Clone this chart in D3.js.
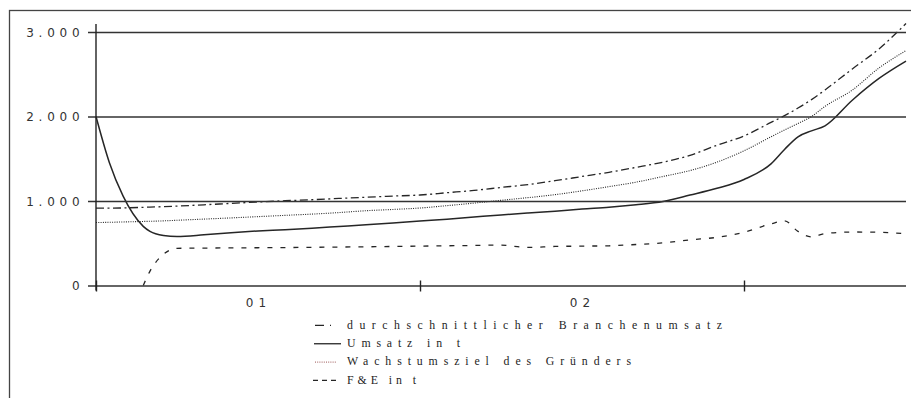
<!DOCTYPE html>
<html>
<head>
<meta charset="utf-8">
<script src="https://cdn.jsdelivr.net/npm/d3@7"></script>
<style>
  html, body { margin: 0; padding: 0; background: #fff; }
  svg { display: block; }
</style>
</head>
<body>
<svg id="chart" width="911" height="398"></svg>
<script>
// Monatsachse (Monate seit Gründung)
const months = [0, 0.5, 1, 1.75, 2, 2.5, 3, 4, 5, 6, 7, 8, 9, 10, 11, 12, 13, 14, 15, 16, 17, 18,
  19, 20, 21, 22, 23, 24, 25, 25.5, 26, 26.5, 27, 28, 29, 30];

const branchenumsatz = [915, 915, 918, 925, 928, 933, 940, 955, 972, 988, 1003, 1015, 1030, 1045,
  1058, 1071, 1098, 1125, 1160, 1195, 1240, 1290, 1340, 1398, 1460, 1540, 1660, 1770, 1930, 2010,
  2100, 2200, 2314, 2560, 2800, 3100];

const umsatz = [2000, 1450, 1060, 700, 640, 592, 580, 600, 625, 645, 660, 678, 698, 718, 740, 763,
  785, 810, 835, 858, 880, 905, 925, 955, 995, 1070, 1150, 1255, 1440, 1610, 1760, 1830, 1890,
  2190, 2450, 2655];

const wachstumsziel = [745, 748, 752, 758, 760, 765, 772, 786, 800, 815, 830, 845, 863, 885, 900,
  917, 945, 975, 1008, 1040, 1075, 1120, 1170, 1223, 1290, 1360, 1460, 1594, 1760, 1840, 1918,
  2000, 2120, 2310, 2574, 2780];

const fue = [0, 0, 0, 0, 170, 370, 440, 443, 445, 447, 449, 452, 455, 458, 462, 466, 470, 474, 478,
  450, 462, 466, 470, 485, 505, 540, 570, 630, 730, 765, 640, 575, 615, 633, 630, 612];

const yTicks = [0, 1000, 2000, 3000];
const yearTicks = [0, 12, 24];
const yearLabelPos = [6, 18];
const yearLabels = ["01", "02"];

const seriesNames = ["durchschnittlicher Branchenumsatz", "Umsatz in t", "Wachstumsziel des Gründers", "F&E in t"];

const svg = d3.select("#chart");
const ink = "#262626";

// Rahmen
svg.append("rect")
  .attr("x", 9.5).attr("y", 10.5)
  .attr("width", 920).attr("height", 420)
  .attr("fill", "none").attr("stroke", "#444").attr("stroke-width", 1.3);

const x = d3.scaleLinear().domain([0, 30]).range([96, 906]);
const y = d3.scaleLinear().domain([0, 3000]).range([285.5, 32]);

const de = d3.formatLocale({ decimal: ",", thousands: ".", grouping: [3], currency: ["", " €"] });
const fmt = de.format(",");

// Linien (führende Nullwerte werden nicht gezeichnet)
const styles = [
  { data: branchenumsatz, dash: "8,3.5,2,3.5", width: 1.3 },
  { data: umsatz, dash: null, width: 1.5 },
  { data: wachstumsziel, dash: "1,1.3", width: 1.1 },
  { data: fue, dash: "5,8", width: 1.3 }
];

const line = d3.line()
  .defined((d, i, arr) => d > 0 || arr[i + 1] > 0)
  .x((d, i) => x(months[i]))
  .y(d => y(d))
  .curve(d3.curveMonotoneX);

styles.forEach(s => {
  svg.append("path")
    .datum(s.data)
    .attr("d", line)
    .attr("fill", "none")
    .attr("stroke", ink)
    .attr("stroke-width", s.width)
    .attr("stroke-dasharray", s.dash);
});

// y-Achse mit Gitterlinien
const gy = svg.append("g")
  .attr("transform", "translate(96,0)")
  .call(d3.axisLeft(y).tickValues(yTicks).tickFormat(fmt).tickSize(0));
gy.select(".domain").remove();
gy.selectAll(".tick line")
  .attr("x1", -8).attr("x2", x(30) - 96)
  .attr("stroke", "#333").attr("stroke-width", 1.4);
gy.selectAll(".tick text")
  .attr("x", -11.5)
  .attr("dy", "0.34em")
  .attr("fill", "#333")
  .style("font-family", "'DejaVu Sans', sans-serif")
  .style("font-size", "12px")
  .style("letter-spacing", "4.8px");

svg.append("line")
  .attr("x1", 96).attr("x2", 96)
  .attr("y1", y(3000) - 8).attr("y2", y(0) + 5)
  .attr("stroke", "#222").attr("stroke-width", 1.4);

// x-Achse: Jahresgrenzen und Jahresbeschriftungen
const gx = svg.append("g")
  .attr("transform", `translate(0,${y(0)})`)
  .call(d3.axisBottom(x).tickValues(yearTicks).tickFormat(""));
gx.select(".domain").remove();
gx.selectAll(".tick line")
  .attr("y1", -5).attr("y2", 6)
  .attr("stroke", "#222").attr("stroke-width", 1.4);

const gxl = svg.append("g")
  .attr("transform", `translate(0,${y(0)})`)
  .call(d3.axisBottom(x).tickValues(yearLabelPos)
    .tickFormat((d, i) => yearLabels[i]).tickSize(0).tickPadding(13));
gxl.select(".domain").remove();
gxl.selectAll(".tick text")
  .attr("fill", "#333")
  .style("font-family", "'DejaVu Sans', sans-serif")
  .style("font-size", "12px")
  .style("letter-spacing", "5px");

// Legende
const legend = svg.append("g").attr("transform", "translate(314,328.7)");
const legendSample = [
  { x1: 1, x2: 17, dash: "9,6,2,20", color: ink, w: 1.3 },
  { x1: 0, x2: 27, dash: null, color: ink, w: 1.3 },
  { x1: 1, x2: 22, dash: "1,1.2", color: "#9a5454", w: 1 },
  { x1: -1, x2: 24, dash: "5,4", color: ink, w: 1.3 }
];
const legendTextWidth = [375, 113, 284, 69];
seriesNames.forEach((name, i) => {
  const row = legend.append("g").attr("transform", `translate(0,${i * 18.35})`);
  const s = legendSample[i];
  row.append("line")
    .attr("x1", s.x1).attr("x2", s.x2)
    .attr("y1", -3.3).attr("y2", -3.3)
    .attr("stroke", s.color)
    .attr("stroke-width", s.w)
    .attr("stroke-dasharray", s.dash);
  row.append("text")
    .attr("x", 33).attr("y", 0)
    .attr("fill", "#1e1e1e")
    .attr("textLength", legendTextWidth[i])
    .attr("lengthAdjust", "spacing")
    .style("font-family", "'Liberation Serif', 'Times New Roman', serif")
    .style("font-size", "11.8px")
    .text(name);
});
</script>
</body>
</html>
